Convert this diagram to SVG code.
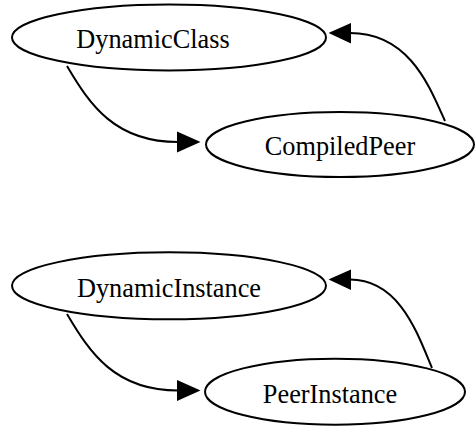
<svg xmlns="http://www.w3.org/2000/svg" width="475" height="427" viewBox="0 0 475 427">
<style>
.node ellipse{fill:#fff;stroke:#000;stroke-width:2}
.node text{font-size:26.3px;fill:#000}
.edge path{fill:none;stroke:#000;stroke-width:2}
.edge polygon{fill:#000;stroke:#000;stroke-width:2}
</style>
<rect width="475" height="427" fill="#fff"/>
<g id="edges">
<g class="edge" id="e1"><path d="M67,66 C90,105 115,142 178,142"/><polygon points="198,142 178,133 178,151"/></g>
<g class="edge" id="e2"><path d="M445,121 C430,88 410,33 350,33"/><polygon points="331,33 350,24.5 350,42"/></g>
<g class="edge" id="e3"><path d="M67,314 C90,353 115,390.5 178,390.5"/><polygon points="198,390.5 178,381.5 178,399.5"/></g>
<g class="edge" id="e4"><path d="M432,368 C418,335 400,279.5 350,279.5"/><polygon points="331,279.5 350,271 350,288.5"/></g>
</g>
<g class="node" id="DynamicClass" font-family="Liberation Serif, serif"><ellipse cx="169" cy="37.5" rx="157" ry="33"/><text x="153" y="48.3" text-anchor="middle">DynamicClass</text></g>
<g class="node" id="CompiledPeer" font-family="Liberation Serif, serif"><ellipse cx="340" cy="144.5" rx="134" ry="32.5"/><text x="340" y="154.5" text-anchor="middle">CompiledPeer</text></g>
<g class="node" id="DynamicInstance" font-family="Liberation Serif, serif"><ellipse cx="169" cy="285.8" rx="157" ry="33.5"/><text x="169" y="296.7" text-anchor="middle">DynamicInstance</text></g>
<g class="node" id="PeerInstance" font-family="Liberation Serif, serif"><ellipse cx="335" cy="391.7" rx="130" ry="33"/><text x="330" y="402.7" text-anchor="middle">PeerInstance</text></g>
</svg>
